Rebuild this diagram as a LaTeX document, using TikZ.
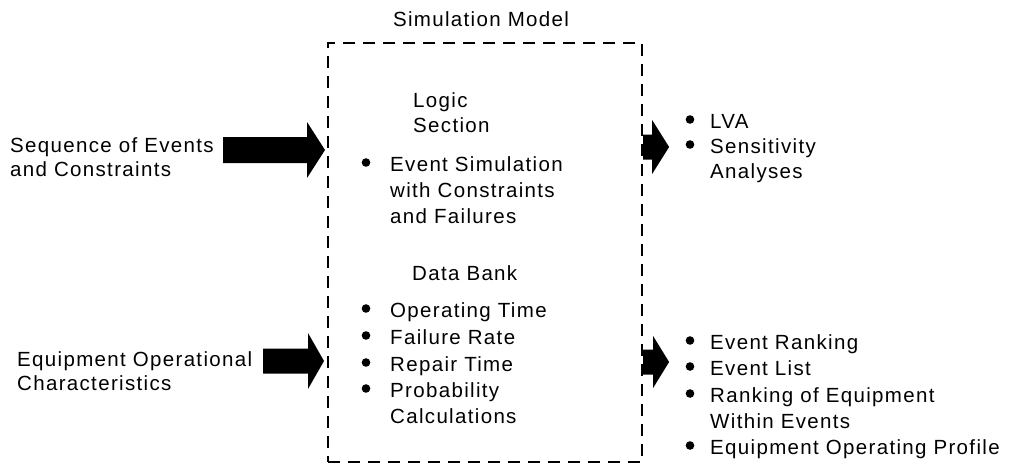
\documentclass[tikz,border=0pt]{standalone}
\usepackage{fontspec}
\setmainfont{Liberation Sans}[LetterSpace=6.5]
\usetikzlibrary{positioning}

\newcommand{\blockarrow}[5]{% tail, shaft length, head length, shaft half, head half
  \fill (#1) ++(0,-#4) -- ++(#2,0) -- ++(0,#4-#5) -- ++(#3,#5) -- ++(-#3,#5)
    -- ++(0,#4-#5) -- ++(-#2,0) -- cycle;}

\begin{document}
\begin{tikzpicture}[
    x=1pt,y=-1pt,
    font=\fontsize{20.5}{24}\selectfont,
    txt/.style={anchor=base west,inner sep=0pt},
    model/.style={draw,dashed,line width=2.2pt,dash pattern=on 12pt off 8pt,
      minimum width=314pt,minimum height=419pt,inner sep=0pt}
  ]
  \useasboundingbox (0,0) rectangle (1009,469);

  \node[model] (box) at (485,252.5) {};
  \node[anchor=base,inner sep=0pt] (title) at ([xshift=-4pt,yshift=15pt]box.north) {Simulation Model};

  % inputs
  \node[txt] (seq1) at (10,152) {Sequence of Events};
  \node[txt] (seq2) at (10,176) {and Constraints};
  \node[txt] (eqp1) at (17,366) {Equipment Operational};
  \node[txt] (eqp2) at (17,390) {Characteristics};

  % logic section
  \node[txt] (logic) at (413,107) {Logic};
  \node[txt] (sect) at (413,132) {Section};
  \node[txt] (evsim) at (390,171) {Event Simulation};
  \node[txt] (evsim2) at (390,197) {with Constraints};
  \node[txt] (evsim3) at (390,223) {and Failures};

  % data bank
  \node[txt] (bank) at (412,280) {Data Bank};
  \node[txt] (optime) at (390,317) {Operating Time};
  \node[txt] (frate) at (390,344) {Failure Rate};
  \node[txt] (rtime) at (390,371) {Repair Time};
  \node[txt] (prob) at (390,397) {Probability};
  \node[txt] (prob2) at (390,423) {Calculations};

  % outputs
  \node[txt] (lva) at (710,128) {LVA};
  \node[txt] (sens) at (710,153) {Sensitivity};
  \node[txt] (sens2) at (710,178) {Analyses};
  \node[txt] (rank) at (710,349) {Event Ranking};
  \node[txt] (list) at (710,375) {Event List};
  \node[txt] (rkeq) at (710,402) {Ranking of Equipment};
  \node[txt] (rkeq2) at (710,428) {Within Events};
  \node[txt] (prof) at (710,454) {Equipment Operating Profile};

  % bullets
  \foreach \n in {evsim,optime,frate,rtime,prob}
    \fill ([shift={(-24,-8.5)}]\n.base west) circle (4.3pt);
  \foreach \n in {lva,sens,rank,list,rkeq,prof}
    \fill ([shift={(-20,-8.5)}]\n.base west) circle (4.3pt);

  % arrows
  \coordinate (inA) at (223,150);
  \coordinate (inB) at (263,361);
  \coordinate (outA) at (box.east |- 0,147);
  \coordinate (outB) at (box.east |- 0,362);
  \blockarrow{inA}{84}{18}{13}{28}
  \blockarrow{inB}{45}{16}{12.5}{28}
  \blockarrow{outA}{9}{17}{12.5}{27}
  \blockarrow{outB}{10}{16}{12.5}{26}
\end{tikzpicture}
\end{document}
